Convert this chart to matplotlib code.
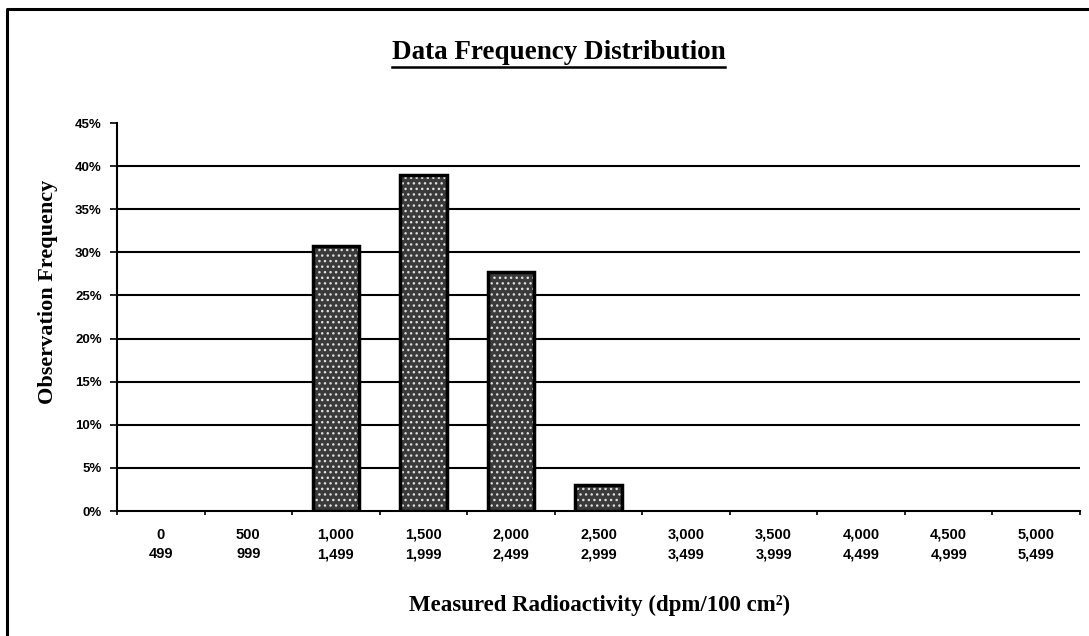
import matplotlib.pyplot as plt
import numpy as np
from matplotlib.lines import Line2D

# bins of measured radioactivity (dpm/100 cm2)
bin_low = ["0", "500", "1,000", "1,500", "2,000", "2,500", "3,000", "3,500", "4,000", "4,500", "5,000"]
bin_high = ["499", "999", "1,499", "1,999", "2,499", "2,999", "3,499", "3,999", "4,499", "4,999", "5,499"]
freq = [0, 0, 30.7, 39.0, 27.7, 3.0, 0, 0, 0, 0, 0]  # percent
y_ticks = [0, 5, 10, 15, 20, 25, 30, 35, 40, 45]

SERIF = "Liberation Serif"
SANS = "Liberation Sans"

fig = plt.figure(figsize=(10.89, 6.36), dpi=100)
ax = fig.add_axes([0.1074, 0.1965, 0.8843, 0.610])

x = np.arange(len(bin_low))
edge_w = [2.5 if f > 0 else 0 for f in freq]
# stippled fill, then a thick outline on top
ax.bar(x, freq, width=0.53, color="#3a3a3a", edgecolor="#dddddd", hatch="...", linewidth=0, zorder=3)
ax.bar(x, freq, width=0.53, fill=False, edgecolor="black", linewidth=edge_w, zorder=4)

ax.set_xlim(-0.5, len(bin_low) - 0.5)
ax.set_ylim(0, 45)
ax.set_yticks(y_ticks)
ax.set_yticklabels([f"{v}%" for v in y_ticks], fontsize=9.5, fontweight="bold", family=SANS)
for v in y_ticks[1:-1]:
    ax.axhline(v, color="black", linewidth=1.5, zorder=1)

# category labels as minor ticks, boundaries as major ticks
ax.set_xticks(np.arange(len(bin_low) + 1) - 0.5)
ax.set_xticklabels([])
ax.set_xticks(x, minor=True)
ax.set_xticklabels([f"{a}\n{b}" for a, b in zip(bin_low, bin_high)], minor=True,
                   fontsize=10.5, fontweight="bold", family=SANS, linespacing=1.5)
ax.tick_params(axis="x", which="minor", length=0, pad=12)
ax.tick_params(axis="x", which="major", length=3, width=1.2, direction="out")
ax.tick_params(axis="y", length=5, width=1.2, direction="out", pad=6)

for s in ["top", "right"]:
    ax.spines[s].set_visible(False)
for s in ["left", "bottom"]:
    ax.spines[s].set_linewidth(1.5)

fig.text(0.0441, 0.541, "Observation Frequency", rotation=90, ha="center", va="center",
         fontsize=16, fontweight="bold", family=SERIF)
fig.text(0.551, 0.048, "Measured Radioactivity (dpm/100 cm²)", ha="center", va="center",
         fontsize=16.5, fontweight="bold", family=SERIF)
title = fig.text(0.513, 0.918, "Data Frequency Distribution", ha="center", va="center",
                 fontsize=19.5, fontweight="bold", family=SERIF)

# underline the title
fig.canvas.draw()
bb = title.get_window_extent().transformed(fig.transFigure.inverted())
fig.add_artist(Line2D([bb.x0, bb.x1], [bb.y0 - 0.003, bb.y0 - 0.003], color="black", linewidth=1.8,
                      transform=fig.transFigure))

# page frame: left and top edges
fig.add_artist(Line2D([0.006, 0.006, 1.0], [0.0, 0.986, 0.986], color="black", linewidth=2.2,
                      transform=fig.transFigure))

fig.savefig("out.png", dpi=100)
